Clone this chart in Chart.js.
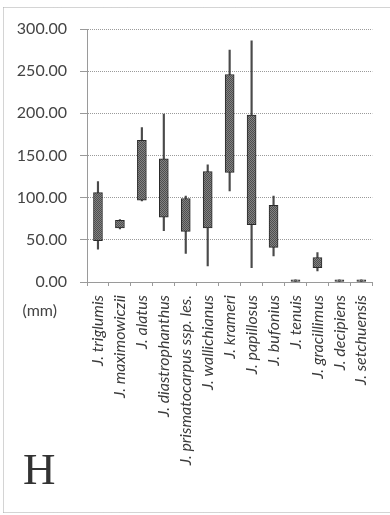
<!DOCTYPE html>
<html>
<head>
<meta charset="utf-8">
<script src="https://cdn.jsdelivr.net/npm/chart.js@4/dist/chart.umd.min.js"></script>
<style>
  html, body { margin: 0; padding: 0; background: #fff; }
  #wrap { position: relative; width: 390px; height: 515px; }
</style>
</head>
<body>
<div id="wrap"><canvas id="c" width="390" height="515"></canvas></div>
<script>
// Leaf length ranges per species (mm)
const species = [
  'J. triglumis', 'J. maximowiczii', 'J. alatus', 'J. diastrophanthus',
  'J. prismatocarpus ssp. les.', 'J. wallichianus', 'J. krameri',
  'J. papillosus', 'J. bufonius', 'J. tenuis', 'J. gracillimus',
  'J. decipiens', 'J. setchuensis'
];
const whiskerLow  = [39, 63, 96, 61, 34, 19, 108, 17, 31, 0, 13, 0, 0];
const boxLow      = [49, 64, 97, 77, 60, 64, 130, 68, 41, 0, 17, 0, 0];
const boxHigh     = [106, 73, 168, 146, 99, 131, 246, 198, 91, 2.5, 29, 2.5, 2.5];
const whiskerHigh = [119, 74, 183, 199, 102, 139, 275, 286, 102, 2.5, 35, 2.5, 2.5];
const yTicks = [0, 50, 100, 150, 200, 250, 300];
const unitLabel = '(mm)';
const panelLetter = 'H';

// stippled grey fill for the boxes
function stipple() {
  const p = document.createElement('canvas');
  p.width = 2; p.height = 2;
  const g = p.getContext('2d');
  g.fillStyle = '#838383'; g.fillRect(0, 0, 2, 2);
  g.fillStyle = '#4e4e4e'; g.fillRect(0, 0, 1, 1); g.fillRect(1, 1, 1, 1);
  return g.createPattern(p, 'repeat');
}

const boxes = species.map((_, i) => [boxLow[i], boxHigh[i]]);
const whiskers = species.map((_, i) => [whiskerLow[i], whiskerHigh[i]]);

const decorations = {
  id: 'decorations',
  afterDraw(chart) {
    const ctx = chart.ctx;
    const y = chart.scales.y;
    ctx.save();
    // dotted frame
    ctx.strokeStyle = '#a8a8a8';
    ctx.lineWidth = 1;
    ctx.setLineDash([1, 1]);
    ctx.beginPath();
    ctx.moveTo(3.5, 7.5); ctx.lineTo(390, 7.5);
    ctx.moveTo(3.5, 7.5); ctx.lineTo(3.5, 512.5);
    ctx.moveTo(3.5, 512.5); ctx.lineTo(390, 512.5);
    ctx.stroke();
    ctx.setLineDash([]);
    // unit label under the value axis
    ctx.fillStyle = '#444';
    ctx.font = '16px Lato';
    ctx.textAlign = 'right';
    ctx.textBaseline = 'middle';
    ctx.fillText(unitLabel, 57, y.getPixelForValue(0) + 29);
    // panel letter
    ctx.fillStyle = '#333';
    ctx.font = '45px "Liberation Serif"';
    ctx.textAlign = 'left';
    ctx.textBaseline = 'alphabetic';
    ctx.fillText(panelLetter, 23, 484);
    ctx.restore();
  }
};

new Chart(document.getElementById('c'), {
  type: 'bar',
  data: {
    labels: species,
    datasets: [
      {
        label: 'range',
        data: whiskers,
        grouped: false,
        barThickness: 1.5,
        backgroundColor: '#4a4a4a',
        borderWidth: 0,
        order: 2
      },
      {
        label: 'box',
        data: boxes,
        grouped: false,
        barThickness: 9,
        backgroundColor: stipple(),
        borderColor: '#2a2a2a',
        borderWidth: 1,
        borderSkipped: false,
        order: 1
      }
    ]
  },
  options: {
    responsive: false,
    animation: false,
    layout: { padding: { top: 29, left: 0, right: 12, bottom: 0 } },
    plugins: { legend: { display: false }, tooltip: { enabled: false } },
    scales: {
      x: {
        offset: true,
        grid: {
          offset: true,
          drawOnChartArea: false,
          drawTicks: true,
          tickLength: 4,
          color: '#9a9a9a'
        },
        border: { display: true, color: '#9a9a9a', dash: [1, 1] },
        ticks: {
          autoSkip: false,
          minRotation: 90,
          maxRotation: 90,
          padding: 9,
          color: '#3a3a3a',
          font: { family: 'Lato', size: 16, style: 'italic' }
        },
        afterFit(s) { s.height = 233; }
      },
      y: {
        min: 0,
        max: 300,
        afterBuildTicks(s) { s.ticks = yTicks.map(v => ({ value: v })); },
        grid: {
          color: '#9a9a9a',
          tickLength: 7,
          tickColor: '#9a9a9a'
        },
        border: { display: true, color: '#9a9a9a', dash: [1, 1] },
        ticks: {
          padding: 13,
          color: '#444',
          font: { family: 'Lato', size: 16 },
          callback: v => Number(v).toFixed(2)
        },
        afterFit(s) { s.width = 87; }
      }
    }
  },
  plugins: [decorations]
});
</script>
</body>
</html>
